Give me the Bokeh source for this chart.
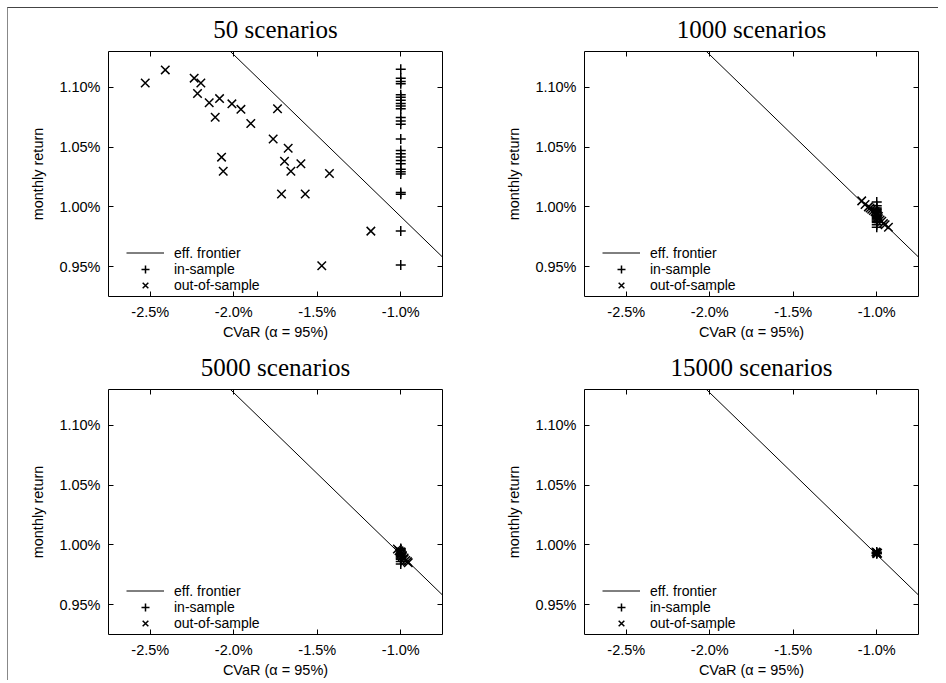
from bokeh.plotting import figure
from bokeh.layouts import gridplot
from bokeh.models import (Range1d, FixedTicker, PrintfTickFormatter, LinearAxis,
                          Legend, LegendItem, CustomLabelingPolicy)
from bokeh.embed import file_html
from bokeh.resources import INLINE

# ---------------- data ----------------
titles = ["50 scenarios", "1000 scenarios", "5000 scenarios", "15000 scenarios"]
x_ticks = [-2.5, -2.0, -1.5, -1.0]
y_ticks = [0.95, 1.00, 1.05, 1.10]
x_limits = [-2.75, -0.75]
y_limits = [0.925, 1.13]
legend_labels = ["eff. frontier", "in-sample", "out-of-sample"]

frontier_cvar = [-2.2, -0.6]
frontier_ret = [1.1544, 0.9377]

# 50 scenarios
in50_ret = [1.1151, 1.1077, 1.1050, 1.1030, 1.0939, 1.0917, 1.0893, 1.0865, 1.0843,
            1.0821, 1.0747, 1.0719, 1.0691, 1.0568, 1.0472, 1.0444, 1.0417, 1.0389,
            1.0361, 1.0315, 1.0293, 1.0274, 1.0120, 1.0106, 0.9798, 0.9514]
in50_cvar = [-1.0] * len(in50_ret)
out50_cvar = [-2.53, -2.41, -2.237, -2.197, -2.217, -2.147, -2.085, -2.111, -2.011,
              -1.957, -1.898, -1.738, -1.764, -1.674, -1.696, -1.658, -1.598, -2.073,
              -2.063, -1.714, -1.572, -1.427, -1.179, -1.473]
out50_ret = [1.1036, 1.1146, 1.1077, 1.1036, 1.0948, 1.0871, 1.0906, 1.0750, 1.0862,
             1.0816, 1.0697, 1.0821, 1.0568, 1.0491, 1.0381, 1.0298, 1.0361, 1.0416,
             1.0298, 1.0108, 1.0108, 1.0279, 0.9797, 0.9508]

# 1000 scenarios
in1000_ret = [1.004, 1.001, 0.999, 0.998, 0.997, 0.996, 0.995, 0.994, 0.993, 0.992,
              0.991, 0.990, 0.989, 0.988, 0.987, 0.985, 0.983]
in1000_cvar = [-1.0] * len(in1000_ret)
out1000_cvar = [-1.09, -1.07, -1.05, -1.04, -1.03, -1.02, -1.01, -1.00, -1.00, -0.99,
                -0.99, -0.98, -0.97, -0.96, -0.95, -0.93]
out1000_ret = [1.005, 1.002, 1.000, 0.999, 0.998, 0.997, 0.996, 0.995, 0.993, 0.992,
               0.990, 0.989, 0.988, 0.986, 0.985, 0.983]

# 5000 scenarios
in5000_ret = [0.997, 0.996, 0.995, 0.994, 0.993, 0.992, 0.991, 0.990, 0.989, 0.988,
              0.986, 0.984]
in5000_cvar = [-1.0] * len(in5000_ret)
out5000_cvar = [-1.02, -1.01, -1.00, -1.00, -0.99, -0.99, -0.98, -0.98, -0.97, -0.96,
                -0.955]
out5000_ret = [0.9965, 0.995, 0.994, 0.992, 0.991, 0.990, 0.989, 0.988, 0.987, 0.986,
               0.985]

# 15000 scenarios
in15000_ret = [0.994, 0.9935, 0.993, 0.9925]
in15000_cvar = [-1.0] * len(in15000_ret)
out15000_cvar = [-1.005, -1.0, -0.995, -1.0]
out15000_ret = [0.994, 0.9935, 0.993, 0.9925]

panels = [
    (in50_cvar, in50_ret, out50_cvar, out50_ret),
    (in1000_cvar, in1000_ret, out1000_cvar, out1000_ret),
    (in5000_cvar, in5000_ret, out5000_cvar, out5000_ret),
    (in15000_cvar, in15000_ret, out15000_cvar, out15000_ret),
]

SANS = "Liberation Sans"
FS = "14.5px"
LEG_FS = "14px"

HIDE_ALL = ("const n = indices.size; for (let i = 0; i < n; i++) indices.unset(i); "
            "return indices")


def style_axis(ax, ticks, fmt, labels=True, standoff=8):
    ax.ticker = FixedTicker(ticks=ticks)
    ax.formatter = PrintfTickFormatter(format=fmt)
    ax.major_tick_in = 5
    ax.major_tick_out = 0
    ax.minor_tick_in = 0
    ax.minor_tick_out = 0
    ax.major_tick_line_color = "black"
    ax.axis_line_color = None
    ax.major_label_text_font = SANS
    ax.major_label_text_color = "black"
    if labels:
        ax.major_label_text_font_size = FS
        ax.major_label_standoff = standoff
    else:
        ax.major_label_text_font_size = "1px"
        ax.major_label_standoff = 0
        ax.major_label_policy = CustomLabelingPolicy(code=HIDE_ALL)


def one_legend(label, renderer, loc_y, gh):
    lg = Legend(items=[LegendItem(label=label, renderers=[renderer])],
                location=(18, loc_y))
    lg.background_fill_alpha = 0
    lg.border_line_color = None
    lg.padding = 0
    lg.margin = 0
    lg.spacing = 0
    lg.glyph_width = 38
    lg.glyph_height = gh
    lg.label_height = gh
    lg.label_standoff = 10
    lg.label_text_font = SANS
    lg.label_text_font_size = LEG_FS
    lg.label_text_color = "black"
    return lg


def make_panel(i, mb_left, mb_right, mb_top, mb_bottom, width, height):
    in_c, in_r, out_c, out_r = panels[i]
    p = figure(width=width, height=height, output_backend="svg", toolbar_location=None,
               x_range=Range1d(*x_limits), y_range=Range1d(*y_limits),
               min_border_left=mb_left, min_border_right=mb_right,
               min_border_top=mb_top, min_border_bottom=mb_bottom)
    p.background_fill_color = "white"
    p.border_fill_color = "white"
    p.outline_line_color = "black"
    p.outline_line_width = 1
    p.outline_line_alpha = 1
    p.grid.visible = False

    p.title.text = titles[i]
    p.title.text_font = "Liberation Serif"
    p.title.text_font_size = "25px"
    p.title.text_font_style = "normal"
    p.title.align = "center"
    p.title.text_color = "black"

    style_axis(p.xaxis[0], x_ticks, "%.1f%%", standoff=7)
    style_axis(p.yaxis[0], y_ticks, "%.2f%%", standoff=8)
    p.xaxis.axis_label = "CVaR (\u03b1 = 95%)"
    p.yaxis.axis_label = "monthly return"
    for ax in (p.xaxis[0], p.yaxis[0]):
        ax.axis_label_text_font = SANS
        ax.axis_label_text_font_size = FS
        ax.axis_label_text_font_style = "normal"
        ax.axis_label_text_color = "black"
    p.xaxis.axis_label_standoff = 1
    p.yaxis.axis_label_standoff = 10

    top_ax = LinearAxis()
    style_axis(top_ax, x_ticks, "%.1f%%", labels=False)
    p.add_layout(top_ax, "above")
    right_ax = LinearAxis()
    style_axis(right_ax, y_ticks, "%.2f%%", labels=False)
    p.add_layout(right_ax, "right")

    line = p.line(frontier_cvar, frontier_ret, line_color="black", line_width=1)
    plus = p.scatter(in_c, in_r, marker="cross", size=10, line_color="black",
                     line_width=1.5)
    xs = p.scatter(out_c, out_r, marker="x", size=12, line_color="black",
                   line_width=1.5)

    p.add_layout(one_legend(legend_labels[0], line, 35.2, 15))
    p.add_layout(one_legend(legend_labels[1], plus, 16.7, 20))
    p.add_layout(one_legend(legend_labels[2], xs, 0.7, 20))
    return p


p1 = make_panel(0, 100, 31, 40, 50, 465, 338)
p2 = make_panel(1, 111, 20, 40, 50, 465, 338)
p3 = make_panel(2, 100, 31, 40, 46, 465, 334)
p4 = make_panel(3, 111, 20, 40, 46, 465, 334)

grid = gridplot([[p1, p2], [p3, p4]], toolbar_location=None)
grid.margin = (7, 0, 0, 7)
grid.styles = {"border-top": "1px solid #444444", "border-left": "1px solid #888888"}

open("out.html", "w").write(file_html(grid, INLINE))
